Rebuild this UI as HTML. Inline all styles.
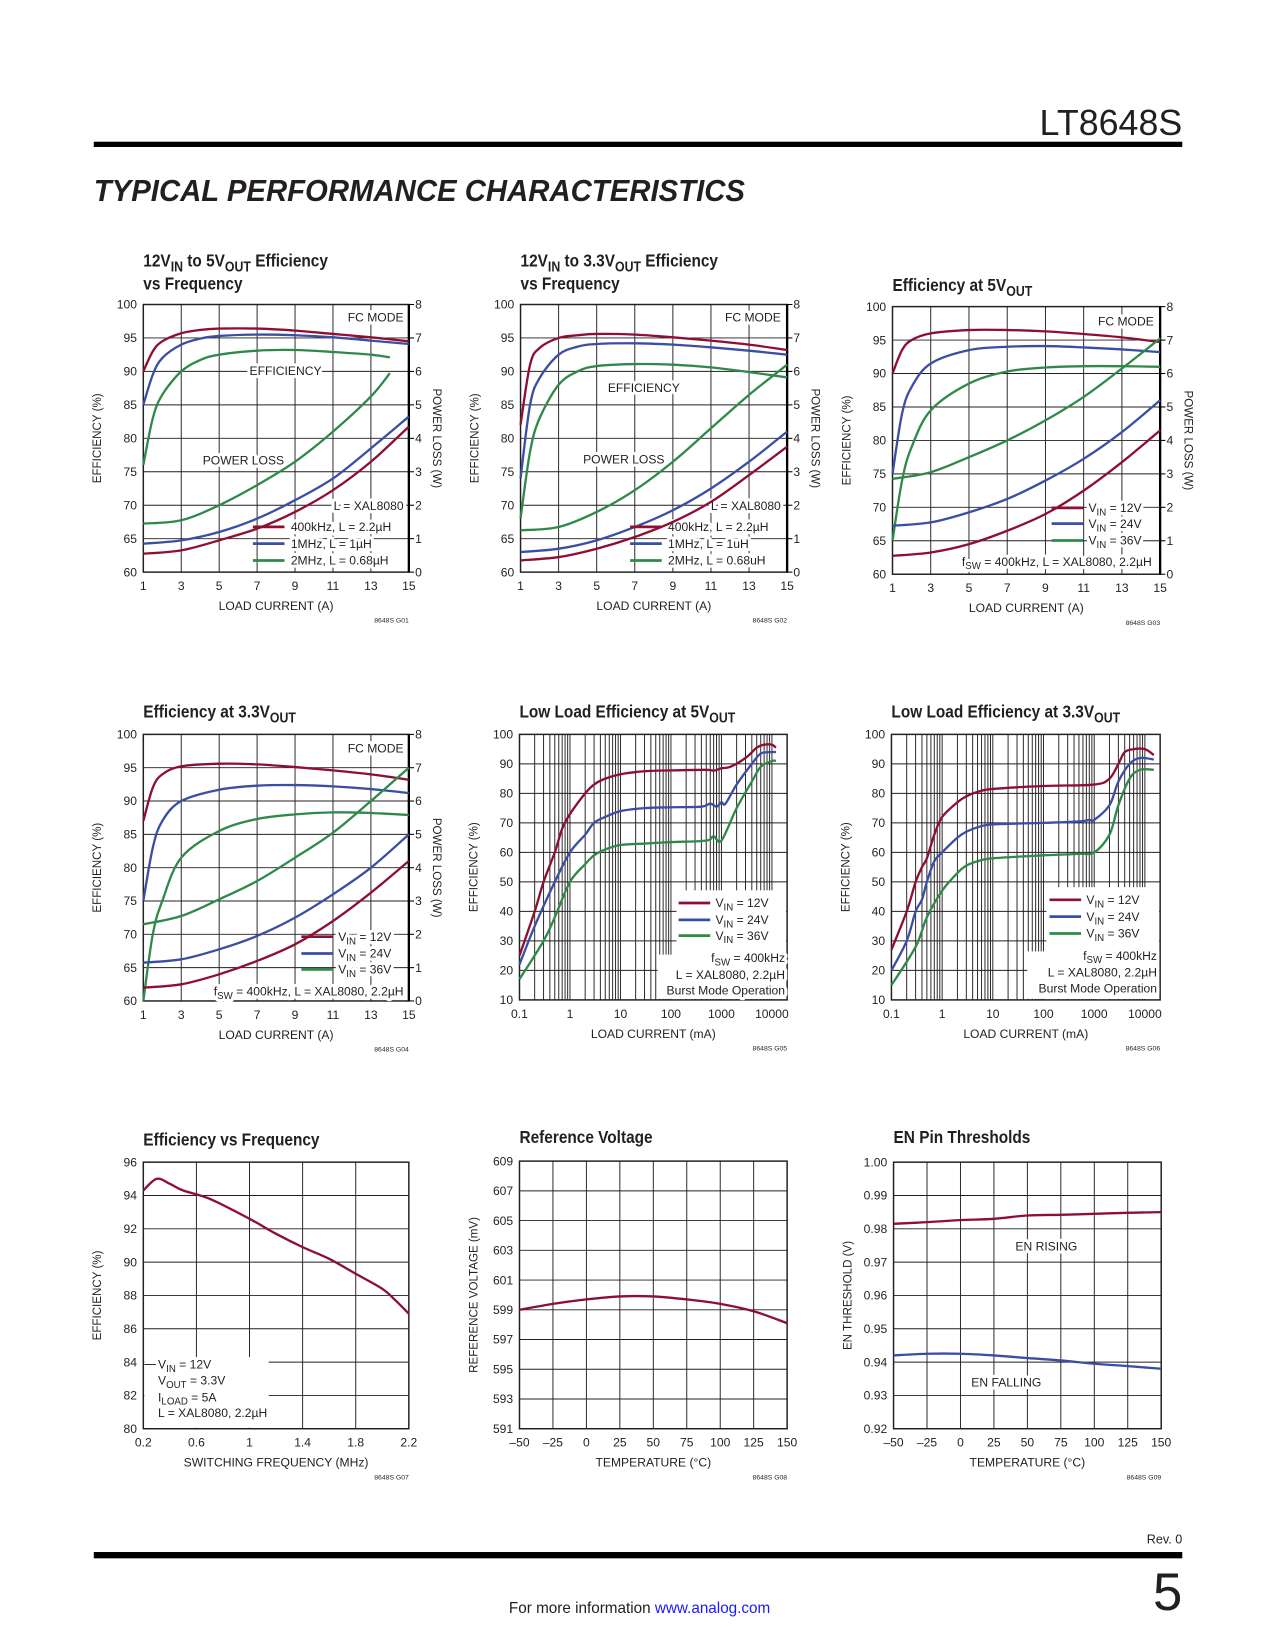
<!DOCTYPE html>
<html><head><meta charset="utf-8"><style>
html,body{margin:0;padding:0;background:#fff;}
svg{display:block;}
text{font-family:"Liberation Sans Narrow","Liberation Sans",sans-serif;fill:#231f20;}
</style></head><body>
<svg id="page" width="1275" height="1650" viewBox="0 0 1210 1566" preserveAspectRatio="none" xmlns="http://www.w3.org/2000/svg">
<rect x="0" y="0" width="1210" height="1566" fill="#fff"/>
<text x="1122" y="128" text-anchor="end" font-size="34" style="font-family:'Liberation Sans',sans-serif;font-weight:300">LT8648S</text>
<rect x="89" y="134.5" width="1033" height="5" fill="#000"/>
<text x="89" y="191" font-size="29" font-weight="bold" font-style="italic" textLength="618" lengthAdjust="spacingAndGlyphs" style="font-family:'Liberation Sans',sans-serif">TYPICAL PERFORMANCE CHARACTERISTICS</text>
<text x="1122" y="1465" text-anchor="end" font-size="12">Rev. 0</text>
<rect x="89" y="1473" width="1033" height="6" fill="#000"/>
<text x="1122" y="1528" text-anchor="end" font-size="50" style="font-family:'Liberation Sans',sans-serif;font-weight:300">5</text>
<text x="607" y="1531" text-anchor="middle" font-size="14.5">For more information <tspan fill="#1a1aff" style="fill:#1a1aff">www.analog.com</tspan></text>
</svg>
<script>
// ---- Chart 1: 12Vin to 5Vout, frequency ----
const c1X=[1,1.5,2,3,4,5,7,9,11,13,15];
const c1EffRed=[90,93,94.5,95.7,96.2,96.4,96.4,96.1,95.6,95.1,94.5];
const c1EffBlue=[85,89.5,92,94,94.9,95.3,95.5,95.4,95.1,94.6,94.1];
const c1EffGreenX=[1,1.5,2,3,4,5,7,9,11,13,14];
const c1EffGreen=[76,83,86.5,90,91.7,92.5,93.1,93.2,92.9,92.5,92.1];
const c1LossX=[1,3,5,7,9,11,13,15];
const c1LossRed=[0.55,0.65,0.95,1.3,1.8,2.45,3.3,4.35];
const c1LossBlue=[0.85,0.95,1.2,1.6,2.15,2.8,3.7,4.65];
const c1LossGreenX=[1,3,5,7,9,11,13,14];
const c1LossGreen=[1.45,1.55,2,2.6,3.3,4.2,5.25,5.95];
// ---- Chart 2: 12Vin to 3.3Vout ----
const c2EffRed=[82,91,93.5,95,95.4,95.6,95.5,95.1,94.6,94,93.2];
const c2EffBlue=[74,85,89,92.5,93.7,94.1,94.2,94,93.6,93.1,92.5];
const c2EffGreen=[68,78,83,88,90,90.8,91.1,91,90.6,89.9,89.1];
const c2LossRed=[0.35,0.45,0.7,1.05,1.5,2.1,2.9,3.75];
const c2LossBlue=[0.6,0.7,0.95,1.35,1.85,2.5,3.3,4.2];
const c2LossGreen=[1.25,1.35,1.8,2.45,3.3,4.3,5.3,6.2];
// ---- Chart 3: Efficiency at 5Vout ----
const c3X=[1,1.5,2,3,5,7,9,11,13,15];
const c3EffRed=[90,93.5,95,96,96.5,96.5,96.3,95.9,95.4,94.7];
const c3EffBlue=[75,84,88,91.5,93.5,94,94.1,93.9,93.6,93.2];
const c3EffGreen=[65,74,79,84.5,88.5,90.3,90.9,91.1,91.1,91];
const c3LossRed=[0.55,0.65,0.9,1.3,1.8,2.5,3.35,4.3];
const c3LossBlue=[1.45,1.55,1.85,2.25,2.8,3.45,4.25,5.2];
const c3LossGreen=[2.85,3.05,3.5,4,4.6,5.3,6.15,7.05];
// ---- Chart 4: Efficiency at 3.3Vout ----
const c4EffRed=[87,92,94,95.2,95.6,95.5,95.1,94.6,94,93.2];
const c4EffBlue=[75,83,87,90,91.7,92.3,92.4,92.2,91.8,91.2];
const c4EffGreen=[60,70,75,81.5,85.5,87.3,88,88.3,88.2,87.9];
const c4LossRed=[0.4,0.5,0.8,1.2,1.7,2.4,3.25,4.2];
const c4LossBlue=[1.15,1.25,1.55,1.95,2.5,3.2,4,5];
const c4LossGreen=[2.3,2.55,3.05,3.6,4.3,5.05,6,7];
// ---- Chart 5: Low load at 5Vout ----
const c5RedX=[0.1,0.2,0.3,0.5,0.7,1,2,3,5,10,30,100,500,700,1000,1500,3000,5000,7000,10000,12000];
const c5Red=[25,40,50,60,68,73,80,83,85,86.5,87.5,87.8,88,87.7,88.5,89,92,95.5,96.5,96.5,95.5];
const c5BlueX=[0.1,0.2,0.5,1,2,3,5,10,30,100,400,600,800,1000,1200,2000,4000,6000,10000,12000];
const c5Blue=[22,35,50,60,66,70,72,74,75,75.3,75.5,76.5,75.5,77,76.5,83,90,93.5,94,94];
const c5GreenX=[0.1,0.3,0.5,1,2,3,5,10,30,100,500,700,1000,2000,4000,6000,10000,12000];
const c5Green=[17,30,38,50,56,59,61,62.5,63,63.5,64,65.5,64,75,84,89,91,91];
// ---- Chart 6: Low load at 3.3Vout ----
const c6RedX=[0.1,0.2,0.3,0.4,0.5,0.7,1,2,3,5,10,100,1000,2000,3000,4000,6000,10000,15000];
const c6Red=[27,40,50,55,58,66,72,77,79,80.5,81.5,82.5,83,85,90,94,95,95,93];
const c6BlueX=[0.1,0.2,0.3,0.4,0.5,0.7,1,2,3,5,10,100,500,800,1000,2000,3000,5000,8000,15000];
const c6Blue=[20,30,40,44,50,57,60,65,67,68.5,69.5,70,70.5,71,71,76,84,90,92,91.5];
const c6GreenX=[0.1,0.3,0.5,1,2,3,5,10,100,500,1000,2000,3000,5000,8000,15000];
const c6Green=[15,28,38,47,53,55.5,57,58,59,59.5,60,66,76,85,88,88];
// ---- Chart 7: Efficiency vs frequency ----
const c7X=[0.2,0.3,0.4,0.5,0.7,1,1.2,1.4,1.6,1.8,2,2.1,2.2];
const c7Eff=[94.3,95,94.7,94.3,93.8,92.6,91.7,90.9,90.2,89.3,88.4,87.7,86.9];
// ---- Chart 8: Reference voltage ----
const tempX=[-50,-25,0,25,50,75,100,125,150];
const c8Vref=[599,599.4,599.7,599.9,599.9,599.7,599.4,598.9,598.1];
// ---- Chart 9: EN thresholds ----
const c9Rising=[0.9815,0.982,0.9826,0.983,0.984,0.9842,0.9845,0.9848,0.985];
const c9Falling=[0.942,0.9425,0.9425,0.942,0.9412,0.9405,0.9395,0.9388,0.938];
// tick label arrays
const loadTicks=[1,3,5,7,9,11,13,15];
const effTicks=[60,65,70,75,80,85,90,95,100];
const lossTicks=[0,1,2,3,4,5,6,7,8];
const logTicks=[0.1,1,10,100,1000,10000];
const logTickLabels=['0.1','1','10','100','1000','10000'];
const pctTicks=[10,20,30,40,50,60,70,80,90,100];
const freqTicks=[0.2,0.6,1,1.4,1.8,2.2];
const c7YTicks=[80,82,84,86,88,90,92,94,96];
const tempTicks=[-50,-25,0,25,50,75,100,125,150];
const vrefTicks=[591,593,595,597,599,601,603,605,607,609];
const enTicks=[0.92,0.93,0.94,0.95,0.96,0.97,0.98,0.99,1.00];

const NS='http://www.w3.org/2000/svg';
const svg=document.getElementById('page');
const RED='#8e0f31',BLUE='#3a4ea3',GREEN='#2f8a4a';
function mk(tag,attrs,name,parent){
  const e=document.createElementNS(NS,tag);
  for(const k in attrs)e.setAttribute(k,attrs[k]);
  
  
  (parent||svg).appendChild(e);return e;
}
function txt1(x,y,s,name,opt,halo){
  const a={x:x,y:y,'font-size':opt.size||11.5};
  if(opt.anchor)a['text-anchor']=opt.anchor;
  if(opt.weight)a['font-weight']=opt.weight;
  let tf='';
  if(opt.rot!=null)tf='rotate('+opt.rot+' '+x+' '+y+')';
  if(opt.sx)tf='translate('+x+' 0) scale('+opt.sx+' 1) translate('+(-x)+' 0)';
  if(tf)a.transform=tf;
  if(halo){a.stroke='#fff';a['stroke-width']=6;a['stroke-linejoin']='round';a.style='fill:#fff';}
  const t=mk('text',a,halo?name+'-halo':name);
  const re=/_\{([^}]*)\}/g;let last=0,m,sub=false;
  const fs=opt.size||11.5;
  while((m=re.exec(s))){
    if(m.index>last){const p=document.createElementNS(NS,'tspan');if(sub){p.setAttribute('dy',-fs*0.28);sub=false;}p.textContent=s.slice(last,m.index);t.appendChild(p);}
    const q=document.createElementNS(NS,'tspan');q.setAttribute('dy',fs*0.28);q.setAttribute('font-size',fs*0.8);q.textContent=m[1];t.appendChild(q);sub=true;
    last=re.lastIndex;
  }
  if(last<s.length){const p=document.createElementNS(NS,'tspan');if(sub)p.setAttribute('dy',-fs*0.28);p.textContent=s.slice(last);t.appendChild(p);}
  return t;
}
function txt(x,y,s,name,opt){
  opt=opt||{};
  if(opt.halo)txt1(x,y,s,name,opt,true);
  return txt1(x,y,s,name,opt,false);
}
function smooth(pts){
  let d='M'+pts[0][0].toFixed(2)+','+pts[0][1].toFixed(2);
  for(let i=0;i<pts.length-1;i++){
    const p0=pts[i-1]||pts[i],p1=pts[i],p2=pts[i+1],p3=pts[i+2]||p2;
    const c1=[p1[0]+(p2[0]-p0[0])/6,p1[1]+(p2[1]-p0[1])/6];
    const c2=[p2[0]-(p3[0]-p1[0])/6,p2[1]-(p3[1]-p1[1])/6];
    d+='C'+c1.map(v=>v.toFixed(2))+' '+c2.map(v=>v.toFixed(2))+' '+p2[0].toFixed(2)+','+p2[1].toFixed(2);
  }
  return d;
}
function chart(c){
  const g={};
  g.sx=c.log?(v=>c.x0+(Math.log10(v)-Math.log10(c.xd[0]))/(Math.log10(c.xd[1])-Math.log10(c.xd[0]))*c.w)
            :(v=>c.x0+(v-c.xd[0])/(c.xd[1]-c.xd[0])*c.w);
  g.sy=v=>c.y0+c.h-(v-c.yd[0])/(c.yd[1]-c.yd[0])*c.h;
  if(c.y2d)g.sy2=v=>c.y0+c.h-(v-c.y2d[0])/(c.y2d[1]-c.y2d[0])*c.h;
  const B=c.y0+c.h,R=c.x0+c.w;
  (c.gx||[]).forEach(v=>mk('line',{x1:g.sx(v),x2:g.sx(v),y1:c.y0,y2:B,stroke:'#231f20','stroke-width':0.9},c.id+'-grid-x'));
  (c.gy||[]).forEach(v=>mk('line',{x1:c.x0,x2:R,y1:g.sy(v),y2:g.sy(v),stroke:'#231f20','stroke-width':0.9},c.id+'-grid-y'));
  (c.masks||[]).forEach(m=>mk('rect',{x:m[0],y:m[1],width:m[2],height:m[3],fill:'#fff'},c.id+'-legend-box'));
  mk('rect',{x:c.x0,y:c.y0,width:c.w,height:c.h,fill:'none',stroke:'#231f20','stroke-width':1.4},c.id+'-plot-frame');
  if(c.y2d)mk('line',{x1:R,x2:R,y1:c.y0,y2:B,stroke:'#000','stroke-width':2.2},c.id+'-right-axis');
  c.yt.forEach((v,i)=>txt(c.x0-6,g.sy(v)+4,c.ytl?c.ytl[i]:String(v),c.id+'-y-tick-label',{anchor:'end'}));
  c.xt.forEach((v,i)=>txt(g.sx(v),B+17,c.xtl?c.xtl[i]:String(v),c.id+'-x-tick-label',{anchor:'middle'}));
  if(c.y2d){lossTicks.forEach(v=>{mk('line',{x1:R,x2:R+5,y1:g.sy2(v),y2:g.sy2(v),stroke:'#000','stroke-width':1},c.id+'-y2-tick');txt(R+6,g.sy2(v)+4,String(v),c.id+'-y2-tick-label',{});});
    txt(R+23,c.y0+c.h/2,'POWER LOSS (W)',c.id+'-y2-axis-title',{anchor:'middle',rot:90,size:11});}
  txt(c.x0-40,c.y0+c.h/2,c.ylab,c.id+'-y-axis-title',{anchor:'middle',rot:-90,size:11});
  txt(c.x0+c.w/2,B+36,c.xlab,c.id+'-x-axis-title',{anchor:'middle',size:11.5});
  txt(R,B+48,c.fig,c.id+'-figure-id',{anchor:'end',size:6.5});
  c.title.forEach((t,i)=>txt(c.x0,c.ty+i*22,t,c.id+'-title',{size:17,weight:'bold',sx:0.86}));
  (c.notes||[]).forEach(n=>txt(n[0],n[1],n[2],c.id+'-annotation',{anchor:n[3]||'start',halo:true}));
  return g;
}
function series(g,xs,ys,color,name,useY2){
  const sy=useY2?g.sy2:g.sy;
  const pts=xs.map((x,i)=>[g.sx(x),sy(ys[i])]);
  mk('path',{d:smooth(pts),fill:'none',stroke:color,'stroke-width':2.2,'stroke-linejoin':'round'},name);
}
function legend(x,y,color,name){
  mk('line',{x1:x,x2:x+30,y1:y-4,y2:y-4,stroke:color,'stroke-width':2.6},name+'-swatch');
}
const odd=[3,5,7,9,11,13];const effG=[65,70,75,80,85,90,95];
const tempLabels=tempTicks.map(v=>v<0?'\u2013'+(-v):String(v));
const logGrid=[];for(let d=0.1;d<20000;d*=10)for(let k=1;k<=9;k++){const v=d*k;if(v>0.1001&&v<20000)logGrid.push(v);}

let g=chart({id:'chart1',x0:136,y0:289,w:252,h:254,xd:[1,15],yd:[60,100],y2d:[0,8],gx:odd,gy:effG,xt:loadTicks,yt:effTicks,
  ylab:'EFFICIENCY (%)',xlab:'LOAD CURRENT (A)',fig:'8648S G01',title:['12V_{IN} to 5V_{OUT} Efficiency','vs Frequency'],ty:253,
  notes:[[383,305,'FC MODE','end'],[271,356,'EFFICIENCY','middle'],[231,441,'POWER LOSS','middle'],[383,484,'L = XAL8080','end'],[276,504,'400kHz, L = 2.2µH'],[276,520,'1MHz, L = 1µH'],[276,536,'2MHz, L = 0.68µH']]});
series(g,c1X,c1EffRed,RED,'c1-eff-400khz');series(g,c1X,c1EffBlue,BLUE,'c1-eff-1mhz');series(g,c1EffGreenX,c1EffGreen,GREEN,'c1-eff-2mhz');
series(g,c1LossX,c1LossRed,RED,'c1-loss-400khz',1);series(g,c1LossX,c1LossBlue,BLUE,'c1-loss-1mhz',1);series(g,c1LossGreenX,c1LossGreen,GREEN,'c1-loss-2mhz',1);
legend(240,504,RED,'c1-legend-400khz');legend(240,520,BLUE,'c1-legend-1mhz');legend(240,536,GREEN,'c1-legend-2mhz');

g=chart({id:'chart2',x0:494,y0:289,w:253,h:254,xd:[1,15],yd:[60,100],y2d:[0,8],gx:odd,gy:effG,xt:loadTicks,yt:effTicks,
  ylab:'EFFICIENCY (%)',xlab:'LOAD CURRENT (A)',fig:'8648S G02',title:['12V_{IN} to 3.3V_{OUT} Efficiency','vs Frequency'],ty:253,
  notes:[[741,305,'FC MODE','end'],[611,372,'EFFICIENCY','middle'],[592,440,'POWER LOSS','middle'],[741,484,'L = XAL8080','end'],[634,504,'400kHz, L = 2.2µH'],[634,520,'1MHz, L = 1uH'],[634,536,'2MHz, L = 0.68uH']]});
series(g,c1X,c2EffRed,RED,'c2-eff-400khz');series(g,c1X,c2EffBlue,BLUE,'c2-eff-1mhz');series(g,c1X,c2EffGreen,GREEN,'c2-eff-2mhz');
series(g,c1LossX,c2LossRed,RED,'c2-loss-400khz',1);series(g,c1LossX,c2LossBlue,BLUE,'c2-loss-1mhz',1);series(g,c1LossX,c2LossGreen,GREEN,'c2-loss-2mhz',1);
legend(598,504,RED,'c2-legend-400khz');legend(598,520,BLUE,'c2-legend-1mhz');legend(598,536,GREEN,'c2-legend-2mhz');

g=chart({id:'chart3',x0:847,y0:291,w:254,h:254,xd:[1,15],yd:[60,100],y2d:[0,8],gx:odd,gy:effG,xt:loadTicks,yt:effTicks,
  ylab:'EFFICIENCY (%)',xlab:'LOAD CURRENT (A)',fig:'8648S G03',title:['Efficiency at 5V_{OUT}'],ty:276,
  notes:[[1095,309,'FC MODE','end'],[1033,486,'V_{IN} = 12V'],[1033,501,'V_{IN} = 24V'],[1033,517,'V_{IN} = 36V'],[1093,537,'f_{SW} = 400kHz, L = XAL8080, 2.2µH','end']]});
series(g,c3X,c3EffRed,RED,'c3-eff-12v');series(g,c3X,c3EffBlue,BLUE,'c3-eff-24v');series(g,c3X,c3EffGreen,GREEN,'c3-eff-36v');
series(g,c1LossX,c3LossRed,RED,'c3-loss-12v',1);series(g,c1LossX,c3LossBlue,BLUE,'c3-loss-24v',1);series(g,c1LossX,c3LossGreen,GREEN,'c3-loss-36v',1);
legend(998,486,RED,'c3-legend-12v');legend(998,501,BLUE,'c3-legend-24v');legend(998,517,GREEN,'c3-legend-36v');

g=chart({id:'chart4',x0:136,y0:697,w:252,h:253,xd:[1,15],yd:[60,100],y2d:[0,8],gx:odd,gy:effG,xt:loadTicks,yt:effTicks,
  ylab:'EFFICIENCY (%)',xlab:'LOAD CURRENT (A)',fig:'8648S G04',title:['Efficiency at 3.3V_{OUT}'],ty:681,
  notes:[[383,714,'FC MODE','end'],[321,893,'V_{IN} = 12V'],[321,909,'V_{IN} = 24V'],[321,924,'V_{IN} = 36V'],[383,945,'f_{SW} = 400kHz, L = XAL8080, 2.2µH','end']]});
series(g,c3X,c4EffRed,RED,'c4-eff-12v');series(g,c3X,c4EffBlue,BLUE,'c4-eff-24v');series(g,c3X,c4EffGreen,GREEN,'c4-eff-36v');
series(g,c1LossX,c4LossRed,RED,'c4-loss-12v',1);series(g,c1LossX,c4LossBlue,BLUE,'c4-loss-24v',1);series(g,c1LossX,c4LossGreen,GREEN,'c4-loss-36v',1);
legend(286,893,RED,'c4-legend-12v');legend(286,909,BLUE,'c4-legend-24v');legend(286,924,GREEN,'c4-legend-36v');

g=chart({id:'chart5',x0:493,y0:697,w:254,h:252,xd:[0.1,20000],yd:[10,100],log:true,gx:logGrid,gy:[20,30,40,50,60,70,80,90],xt:logTicks,xtl:logTickLabels,yt:pctTicks,
  ylab:'EFFICIENCY (%)',xlab:'LOAD CURRENT (mA)',fig:'8648S G05',title:['Low Load Efficiency at 5V_{OUT}'],ty:681,
  masks:[[642,845,104,103],[624,906,122,42]],
  notes:[[679,861,'V_{IN} = 12V'],[679,877,'V_{IN} = 24V'],[679,892,'V_{IN} = 36V'],[745,913,'f_{SW} = 400kHz','end'],[745,929,'L = XAL8080, 2.2µH','end'],[745,944,'Burst Mode Operation','end']]});
series(g,c5RedX,c5Red,RED,'c5-eff-12v');series(g,c5BlueX,c5Blue,BLUE,'c5-eff-24v');series(g,c5GreenX,c5Green,GREEN,'c5-eff-36v');
legend(644,861,RED,'c5-legend-12v');legend(644,877,BLUE,'c5-legend-24v');legend(644,892,GREEN,'c5-legend-36v');

g=chart({id:'chart6',x0:846,y0:697,w:255,h:252,xd:[0.1,20000],yd:[10,100],log:true,gx:logGrid,gy:[20,30,40,50,60,70,80,90],xt:logTicks,xtl:logTickLabels,yt:pctTicks,
  ylab:'EFFICIENCY (%)',xlab:'LOAD CURRENT (mA)',fig:'8648S G06',title:['Low Load Efficiency at 3.3V_{OUT}'],ty:681,
  masks:[[993,842,107,106],[975,903,125,45]],
  notes:[[1031,858,'V_{IN} = 12V'],[1031,874,'V_{IN} = 24V'],[1031,890,'V_{IN} = 36V'],[1098,911,'f_{SW} = 400kHz','end'],[1098,927,'L = XAL8080, 2.2µH','end'],[1098,942,'Burst Mode Operation','end']]});
series(g,c6RedX,c6Red,RED,'c6-eff-12v');series(g,c6BlueX,c6Blue,BLUE,'c6-eff-24v');series(g,c6GreenX,c6Green,GREEN,'c6-eff-36v');
legend(996,858,RED,'c6-legend-12v');legend(996,874,BLUE,'c6-legend-24v');legend(996,890,GREEN,'c6-legend-36v');

g=chart({id:'chart7',x0:136,y0:1103,w:252,h:253,xd:[0.2,2.2],yd:[80,96],gx:[0.6,1,1.4,1.8],gy:[82,84,86,88,90,92,94],xt:freqTicks,yt:c7YTicks,
  ylab:'EFFICIENCY (%)',xlab:'SWITCHING FREQUENCY (MHz)',fig:'8648S G07',title:['Efficiency vs Frequency'],ty:1087,
  masks:[[137,1288,118,67]],
  notes:[[150,1299,'V_{IN} = 12V'],[150,1314,'V_{OUT} = 3.3V'],[150,1330,'I_{LOAD} = 5A'],[150,1345,'L = XAL8080, 2.2µH']]});
mk('line',{x1:137,x2:148,y1:1295,y2:1295,stroke:'#231f20','stroke-width':0.9},'chart7-leader');
series(g,c7X,c7Eff,RED,'c7-efficiency');

g=chart({id:'chart8',x0:493,y0:1102,w:254,h:254,xd:[-50,150],yd:[591,609],gx:[-25,0,25,50,75,100,125],gy:[593,595,597,599,601,603,605,607],xt:tempTicks,xtl:tempLabels,yt:vrefTicks,
  ylab:'REFERENCE VOLTAGE (mV)',xlab:'TEMPERATURE (°C)',fig:'8648S G08',title:['Reference Voltage'],ty:1085});
series(g,tempX,c8Vref,RED,'c8-vref');

g=chart({id:'chart9',x0:848,y0:1103,w:254,h:253,xd:[-50,150],yd:[0.92,1.0],gx:[-25,0,25,50,75,100,125],gy:[0.93,0.94,0.95,0.96,0.97,0.98,0.99],xt:tempTicks,xtl:tempLabels,yt:enTicks,ytl:enTicks.map(v=>v.toFixed(2)),
  ylab:'EN THRESHOLD (V)',xlab:'TEMPERATURE (°C)',fig:'8648S G09',title:['EN Pin Thresholds'],ty:1085,
  notes:[[993,1187,'EN RISING','middle'],[955,1316,'EN FALLING','middle']]});
series(g,tempX,c9Rising,RED,'c9-en-rising');series(g,tempX,c9Falling,BLUE,'c9-en-falling');
</script>
</body></html>
